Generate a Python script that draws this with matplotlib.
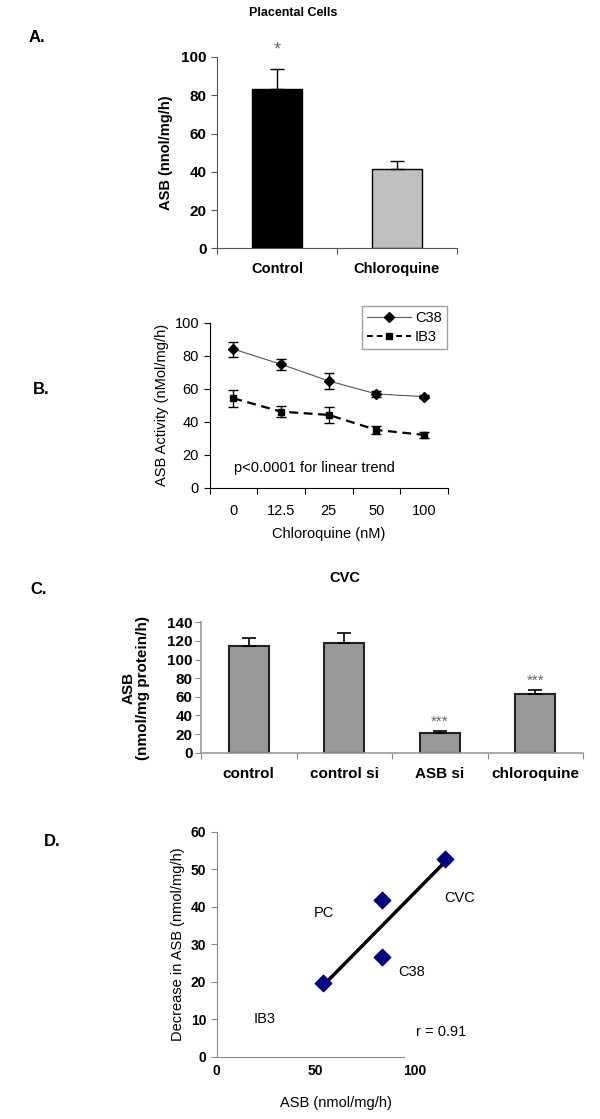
import matplotlib
matplotlib.use("Agg")
import matplotlib.pyplot as plt
from matplotlib.lines import Line2D
import numpy as np

plt.rcParams['font.family'] = ['Liberation Sans', 'DejaVu Sans']

# ---------------- data ----------------
a_cats = ["Control", "Chloroquine"]
a_vals = [83.5, 41.3]
a_err = [10.0, 4.5]

b_doses = ["0", "12.5", "25", "50", "100"]
b_c38 = [84.0, 74.8, 64.7, 56.8, 55.2]
b_c38_err = [4.5, 3.3, 4.6, 2.0, 1.0]
b_ib3 = [54.2, 46.1, 44.1, 35.0, 32.0]
b_ib3_err = [5.0, 3.3, 4.6, 2.5, 2.0]

c_cats = ["control", "control si", "ASB si", "chloroquine"]
c_vals = [114.6, 117.8, 20.8, 63.0]
c_err = [8.3, 10.4, 2.5, 4.3]
c_stars = ["", "", "***", "***"]

d_labels = ["IB3", "C38", "PC", "CVC"]
d_x = [53.8, 83.5, 83.5, 115.3]
d_y = [19.7, 26.7, 41.8, 52.6]

W, H = 600, 1119
fig = plt.figure(figsize=(W / 100, H / 100), dpi=100)


def axes_px(left, top, right, bottom):
    return fig.add_axes([left / W, 1 - bottom / H, (right - left) / W, (bottom - top) / H])


def ftext(x, y, s, **kw):
    fig.text(x / W, 1 - y / H, s, **kw)


# ---------------- Panel A ----------------
ftext(293, 13, "Placental Cells", ha="center", va="center", fontsize=9, fontweight="bold")
ftext(37, 37, "A.", ha="center", va="center", fontsize=12, fontweight="bold")
axA = axes_px(217, 57, 457, 248.3)
xa = np.arange(len(a_cats))
axA.bar(xa, a_vals, width=0.41, color=["black", "#C0C0C0"], edgecolor="black", linewidth=1.0)
axA.errorbar(xa, a_vals, yerr=[np.zeros(len(a_vals)), a_err], fmt="none", ecolor="black",
             elinewidth=1.0, capsize=5, capthick=1.0)
axA.text(0, 103.5, "*", ha="center", va="center", fontsize=13, color="#666666")
axA.set_xlim(-0.5, 1.5)
axA.set_ylim(0, 100)
axA.set_yticks(np.arange(0, 101, 20))
axA.set_xticks([-0.5, 0.5, 1.5], minor=False)
axA.set_xticklabels([])
axA.set_xticks(xa, minor=True)
axA.set_xticklabels(a_cats, minor=True, fontsize=10.5, fontweight="bold")
axA.tick_params(axis="x", which="minor", length=0, pad=10)
axA.tick_params(axis="x", which="major", length=4, color="#555555")
axA.tick_params(axis="y", length=4, color="#555555", labelsize=11)
for lab in axA.get_yticklabels():
    lab.set_fontweight("bold")
for s in ["top", "right"]:
    axA.spines[s].set_visible(False)
for s in ["left", "bottom"]:
    axA.spines[s].set_color("#555555")
axA.set_ylabel("ASB (nnol/mg/h)", fontsize=10.5, fontweight="bold", labelpad=6)

# ---------------- Panel B ----------------
ftext(41, 390, "B.", ha="center", va="center", fontsize=12, fontweight="bold")
axB = axes_px(209.5, 322.7, 448, 487.7)
xb = np.arange(len(b_doses))
axB.errorbar(xb, b_c38, yerr=b_c38_err, fmt="none", ecolor="black", elinewidth=1.0,
             capsize=3.5, capthick=1.0)
axB.plot(xb, b_c38, "-", color="#555555", lw=0.8, marker="D", mfc="black", mec="black", markersize=5)
axB.errorbar(xb, b_ib3, yerr=b_ib3_err, fmt="none", ecolor="black", elinewidth=1.0,
             capsize=3.5, capthick=1.0)
axB.plot(xb, b_ib3, "--", color="black", lw=1.6, marker="s", mfc="black", mec="black",
         markersize=5, dashes=(4, 2.5))
axB.set_xlim(-0.5, 4.5)
axB.set_ylim(0, 100)
axB.set_yticks(np.arange(0, 101, 20))
axB.set_xticks(np.arange(-0.5, 4.6, 1.0))
axB.set_xticklabels([])
axB.set_xticks(xb, minor=True)
axB.set_xticklabels(b_doses, minor=True, fontsize=10.5)
axB.tick_params(axis="x", which="minor", length=0, pad=12)
axB.tick_params(axis="x", which="major", length=4)
axB.tick_params(axis="y", length=4, labelsize=10.5)
for s in ["top", "right"]:
    axB.spines[s].set_visible(False)
axB.set_ylabel("ASB Activity (nMol/mg/h)", fontsize=10.5)
axB.set_xlabel("Chloroquine (nM)", fontsize=10.5, labelpad=6)
axB.text(-0.5 + (234 - 209.5) / 48.0, 11.8, "p<0.0001 for linear trend", ha="left", va="center", fontsize=10.5)
h1 = Line2D([], [], color="#555555", lw=0.8, marker="D", mfc="black", mec="black", markersize=5)
h2 = Line2D([], [], color="black", lw=1.4, ls="--", dashes=(3, 2), marker="s", mfc="black", mec="black", markersize=5)
leg = axB.legend([h1, h2], ["C38", "IB3"], loc="upper left",
                 bbox_to_anchor=(361.7 / W, 1 - 306 / H), bbox_transform=fig.transFigure,
                 fontsize=10.5, frameon=True, fancybox=False, handlelength=3.0,
                 borderpad=0.35, labelspacing=0.35, handletextpad=0.3, borderaxespad=0)
leg.get_frame().set_edgecolor("#888888")
leg.get_frame().set_linewidth(1.0)

# ---------------- Panel C ----------------
ftext(39, 590, "C.", ha="center", va="center", fontsize=12, fontweight="bold")
ftext(345, 578, "CVC", ha="center", va="center", fontsize=10.5, fontweight="bold")
axC = axes_px(201, 622.3, 583, 752.7)
xc = np.arange(len(c_cats))
axC.bar(xc, c_vals, width=0.415, color="#999999", edgecolor="#222222", linewidth=1.5)
axC.errorbar(xc, c_vals, yerr=[np.zeros(len(c_vals)), c_err], fmt="none", ecolor="black",
             elinewidth=1.2, capsize=5, capthick=1.2)
for xi, v, e, s in zip(xc, c_vals, c_err, c_stars):
    if s:
        axC.text(xi, v + e + 10, s, ha="center", va="center", fontsize=11, color="#666666")
axC.set_xlim(-0.5, 3.5)
axC.set_ylim(0, 140)
axC.set_yticks(np.arange(0, 141, 20))
axC.set_xticks(np.arange(-0.5, 3.6, 1.0))
axC.set_xticklabels([])
axC.set_xticks(xc, minor=True)
axC.set_xticklabels(c_cats, minor=True, fontsize=11, fontweight="bold")
axC.tick_params(axis="x", which="minor", length=0, pad=10)
axC.tick_params(axis="x", which="major", length=4, color="#888888")
axC.tick_params(axis="y", length=4, color="#888888", labelsize=11, pad=2)
for lab in axC.get_yticklabels():
    lab.set_fontweight("bold")
for s in ["top", "right"]:
    axC.spines[s].set_visible(False)
for s in ["left", "bottom"]:
    axC.spines[s].set_color("#999999")
    axC.spines[s].set_linewidth(1.2)
axC.set_ylabel("ASB\n(nmol/mg protein/h)", fontsize=11, fontweight="bold", labelpad=12, linespacing=1.05)

# ---------------- Panel D ----------------
ftext(52, 842, "D.", ha="center", va="center", fontsize=12, fontweight="bold")
px_per_unit = 1.98
axD = axes_px(216.7, 831.7, 216.7 + 120 * px_per_unit, 1056.7)
axD.scatter(d_x, d_y, marker="D", s=70, color="#000080", zorder=3, clip_on=False)
coef = np.polyfit(d_x, d_y, 1)
xl = np.array([min(d_x), max(d_x)])
axD.plot(xl, np.polyval(coef, xl), color="black", lw=2.5, zorder=2, clip_on=False)
axD.set_xlim(0, 120)
axD.set_ylim(0, 60)
axD.set_xticks([0, 50, 100])
axD.set_yticks(np.arange(0, 61, 10))
axD.spines["bottom"].set_bounds(0, 94.6)
for s in ["top", "right"]:
    axD.spines[s].set_visible(False)
for s in ["left", "bottom"]:
    axD.spines[s].set_color("#888888")
axD.tick_params(axis="x", length=0, pad=5, labelsize=10)
axD.tick_params(axis="y", length=4, color="#888888", labelsize=10)
for lab in axD.get_xticklabels() + axD.get_yticklabels():
    lab.set_fontweight("bold")
axD.set_xlabel("ASB (nmol/mg/h)", fontsize=10.5, labelpad=13)
axD.set_ylabel("Decrease in ASB (nmol/mg/h)", fontsize=10.5)
d_text_pos = {"IB3": (265, 1019), "C38": (411.7, 972.3), "PC": (324, 913), "CVC": (459.3, 898.3)}
for lab in d_labels:
    x, y = d_text_pos[lab]
    ftext(x, y, lab, ha="center", va="center", fontsize=10.5)
ftext(441, 1031.7, "r = 0.91", ha="center", va="center", fontsize=10.5)

fig.savefig("out.png", dpi=100)
